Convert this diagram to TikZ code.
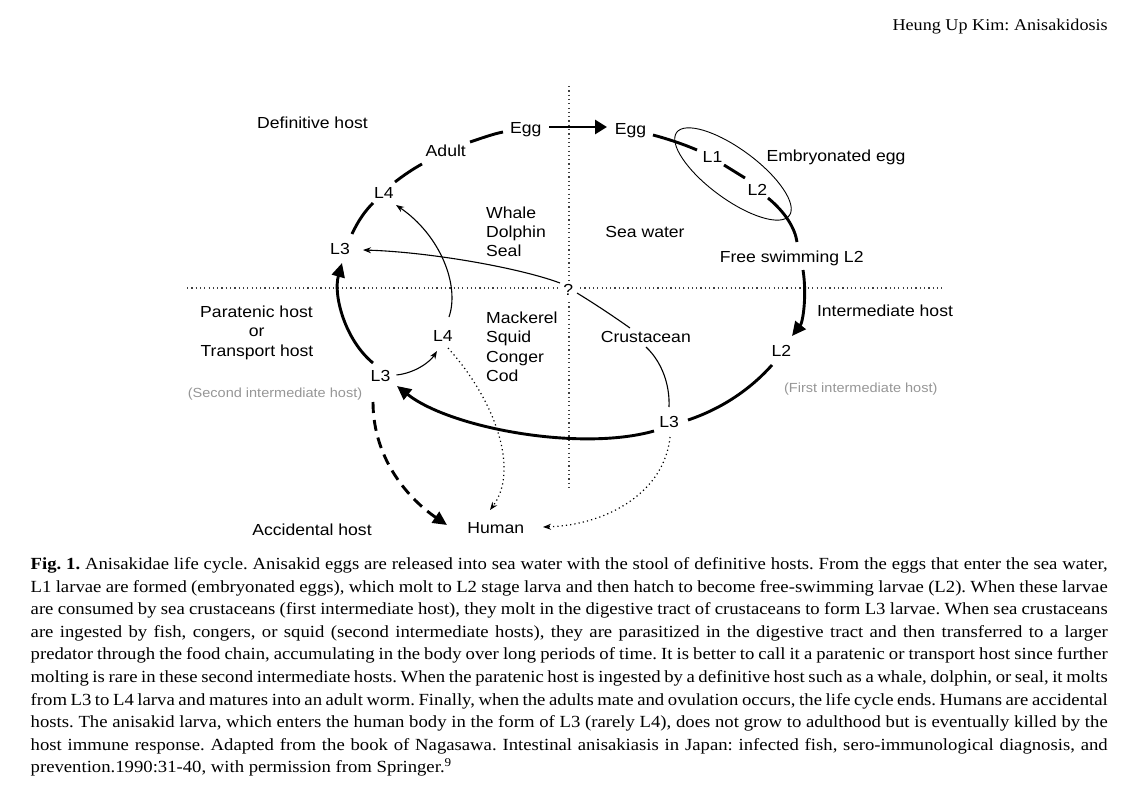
\documentclass[tikz,border=0pt]{standalone}
\usepackage{fontspec}
\setmainfont[FakeStretch=1.1]{Liberation Serif}
\newfontfamily\sansf[FakeStretch=1.1]{Liberation Sans}
\usetikzlibrary{arrows.meta}
\definecolor{greytxt}{RGB}{150,150,150}
\frenchspacing
\begin{document}
\begin{tikzpicture}[x=1pt,y=-1pt,
 lbl/.style={font=\sansf\fontsize{16}{19}\selectfont, inner sep=0pt, anchor=base},
 gry/.style={font=\sansf\fontsize{13.2}{16}\selectfont, text=greytxt, inner sep=0pt, anchor=base},
 cyc/.style={line width=2.9pt},
 thinl/.style={line width=1.1pt},
 dotl/.style={line width=1.2pt, dash pattern=on 1.2pt off 3.1pt},
 axis/.style={line width=1.1pt, dash pattern=on 1.2pt off 3.1pt, draw=black!75},
 bigtip/.style={-{Triangle[length=14pt,width=13pt]}},
 eggtip/.style={-{Triangle[length=12pt,width=14pt]}},
 smalltip/.style={-{Stealth[length=8pt,width=6pt]}},
 captxt/.style={font=\fontsize{17}{20}\selectfont, inner sep=0pt, anchor=base west},
]
\useasboundingbox (0,0) rectangle (1141,795);

% header
\node[font=\fontsize{16.5}{20}\selectfont, anchor=base east, inner sep=0pt] (hdr) at (1108,30) {Heung Up Kim: Anisakidosis};

% labels
\node[lbl] (defh) at (312.5,128.3) {Definitive host};
\node[lbl] (eggL) at (525.7,133.3) {Egg};
\node[lbl] (eggR) at (630.5,134.3) {Egg};
\node[lbl] (adult) at (445.8,156.7) {Adult};
\node[lbl] (L4t) at (383.8,198.3) {L4};
\node[lbl] (L3t) at (340,254) {L3};
\node[lbl] (L1) at (712.5,162.3) {L1};
\node[lbl] (L2e) at (757.3,195) {L2};
\node[lbl] (emb) at (836,161) {Embryonated egg};
\node[lbl] (sea) at (645,237.3) {Sea water};
\node[lbl,anchor=base west] (wh1) at (486,218.3) {Whale};
\node[lbl,anchor=base west] (wh2) at (486,237.7) {Dolphin};
\node[lbl,anchor=base west] (wh3) at (486,256.7) {Seal};
\node[lbl] (fs) at (791.7,262.7) {Free swimming L2};
\node[lbl] (q) at (568.3,295) {?};
\node[lbl] (inth) at (885,316.7) {Intermediate host};
\node[lbl] (L2i) at (781.3,356) {L2};
\node[gry] (first) at (860.8,392.3) {(First intermediate host)};
\node[lbl] (crust) at (645.8,342.3) {Crustacean};
\node[lbl] (L3b) at (669.2,427.7) {L3};
\node[lbl,anchor=base west] (m1) at (486,323.3) {Mackerel};
\node[lbl,anchor=base west] (m2) at (486,342.7) {Squid};
\node[lbl,anchor=base west] (m3) at (486,362.3) {Conger};
\node[lbl,anchor=base west] (m4) at (486,381.7) {Cod};
\node[lbl] (L4m) at (442.8,341) {L4};
\node[lbl] (L3p) at (380.5,381.7) {L3};
\node[lbl] (par1) at (256.5,317.3) {Paratenic host};
\node[lbl] (par2) at (256.7,336.7) {or};
\node[lbl] (par3) at (257,356) {Transport host};
\node[gry] (second) at (275,397.3) {(Second intermediate host)};
\node[lbl] (acc) at (312,535) {Accidental host};
\node[lbl] (human) at (495.8,533.3) {Human};

% axes
\coordinate (vtop) at (569,86);
\coordinate (vbot) at (569,490);
\coordinate (hl) at (187,288);
\coordinate (hr) at (945,288);
\draw[axis] (vtop) -- ([shift={(0.7,-14)}]q.base);
\draw[axis] ([shift={(0.7,7)}]q.base) -- (vbot);
\draw[axis] (hl) -- ([shift={(-8.3,-7)}]q.base);
\draw[axis] ([shift={(11.7,-7)}]q.base) -- (hr);

% embryonated egg ellipse
\coordinate (ellc) at (733,174);
\draw[line width=0.9pt, rotate around={-36.4:(ellc)}] (ellc) ellipse [x radius=70, y radius=25];

% life cycle
\draw[cyc, eggtip] ([shift={(23.3,-6.3)}]eggL.base) -- ([shift={(-23.5,-7.3)}]eggR.base);
\draw[cyc] ([shift={(22.5,0.7)}]eggR.base) .. controls (668,139) and (683,144) .. ([shift={(-15.5,-12.3)}]L1.base);
\draw[cyc] ([shift={(11.5,2.7)}]L1.base) -- ([shift={(-12.3,-17)}]L2e.base);
\draw[cyc] ([shift={(10.7,3)}]L2e.base) .. controls (785,212) and (795,228) .. ([shift={(5.3,-20.7)}]fs.base);
\draw[cyc, bigtip] ([shift={(11.3,7.3)}]fs.base) .. controls (807,295) and (803,322) .. ([shift={(10.7,-20)}]L2i.base);
\draw[cyc] ([shift={(-9.3,9)}]L2i.base) .. controls (748,392) and (718,410) .. ([shift={(18.8,-7.7)}]L3b.base);
\draw[cyc, bigtip] ([shift={(-15.2,3.3)}]L3b.base) .. controls (580,452) and (450,428) .. ([shift={(16.5,4.3)}]L3p.base);
\draw[cyc, bigtip] ([shift={(-7.5,-18.7)}]L3p.base) .. controls (345,340) and (333,295) .. ([shift={(2,9)}]L3t.base);
\draw[cyc] ([shift={(12,-20)}]L3t.base) .. controls (358,221) and (365,211) .. ([shift={(-10.8,4.7)}]L4t.base);
\draw[cyc] ([shift={(11.2,-16.3)}]L4t.base) .. controls (404,175) and (413,169) .. ([shift={(-23.8,7.3)}]adult.base);
\draw[cyc] ([shift={(24.2,-14.7)}]adult.base) .. controls (482,138) and (493,134) .. ([shift={(-22.7,-1.3)}]eggL.base);

% thin connectors
\draw[thinl, smalltip] ([shift={(-8.3,-12)}]q.base) .. controls (520,268) and (430,252) .. ([shift={(23,-4)}]L3t.base);
\draw[thinl] ([shift={(8.7,-2)}]q.base) .. controls (595,304) and (613,316) .. ([shift={(-15.8,-14.3)}]crust.base);
\draw[thinl] ([shift={(0.2,4.7)}]crust.base) .. controls (662,362) and (670,385) .. ([shift={(-0.2,-20.7)}]L3b.base);
\draw[thinl, smalltip] ([shift={(6.2,-24)}]L4m.base) .. controls (460,285) and (440,235) .. ([shift={(12.2,6.7)}]L4t.base);
\draw[thinl, smalltip] ([shift={(16,-6.7)}]L3p.base) .. controls (415,373) and (430,362) .. ([shift={(-5.8,10)}]L4m.base);
\draw[dotl, smalltip] ([shift={(5.2,7)}]L4m.base) .. controls (495,400) and (520,470) .. ([shift={(-5.8,-23.3)}]human.base);
\draw[cyc, dash pattern=on 11pt off 7pt, bigtip] ([shift={(-7.5,20.3)}]L3p.base) .. controls (373,460) and (410,500) .. ([shift={(-48.8,-8.3)}]human.base);
\draw[dotl, smalltip] ([shift={(0.8,9.3)}]L3b.base) .. controls (665,490) and (610,525) .. ([shift={(47.2,-6.3)}]human.base);

% caption
\node[captxt] (c1) at (30.5,569.5) {\makebox[1077pt][s]{\textbf{Fig. 1.} Anisakidae life cycle. Anisakid eggs are released into sea water with the stool of definitive hosts. From the eggs that enter the sea water,}};
\node[captxt] (c2) at (30.5,592.1) {\makebox[1077pt][s]{L1 larvae are formed (embryonated eggs), which molt to L2 stage larva and then hatch to become free-swimming larvae (L2). When these larvae}};
\node[captxt] (c3) at (30.5,614.7) {\makebox[1077pt][s]{are consumed by sea crustaceans (first intermediate host), they molt in the digestive tract of crustaceans to form L3 larvae. When sea crustaceans}};
\node[captxt] (c4) at (30.5,637.3) {\makebox[1077pt][s]{are ingested by fish, congers, or squid (second intermediate hosts), they are parasitized in the digestive tract and then transferred to a larger}};
\node[captxt] (c5) at (30.5,659.9) {\makebox[1077pt][s]{predator through the food chain, accumulating in the body over long periods of time. It is better to call it a paratenic or transport host since further}};
\node[captxt] (c6) at (30.5,682.5) {\makebox[1077pt][s]{molting is rare in these second intermediate hosts. When the paratenic host is ingested by a definitive host such as a whale, dolphin, or seal, it molts}};
\node[captxt] (c7) at (30.5,705.1) {\makebox[1077pt][s]{from L3 to L4 larva and matures into an adult worm. Finally, when the adults mate and ovulation occurs, the life cycle ends. Humans are accidental}};
\node[captxt] (c8) at (30.5,727.7) {\makebox[1077pt][s]{hosts. The anisakid larva, which enters the human body in the form of L3 (rarely L4), does not grow to adulthood but is eventually killed by the}};
\node[captxt] (c9) at (30.5,750.3) {\makebox[1077pt][s]{host immune response. Adapted from the book of Nagasawa. Intestinal anisakiasis in Japan: infected fish, sero-immunological diagnosis, and}};
\node[captxt] (c10) at (30.5,772.9) {prevention.1990:31-40, with permission from Springer.\textsuperscript{9}};
\end{tikzpicture}
\end{document}
